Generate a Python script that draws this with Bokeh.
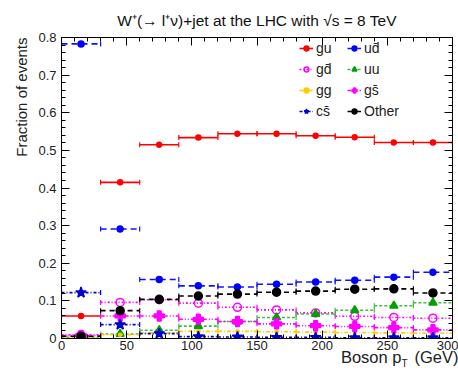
import math
from bokeh.plotting import figure
from bokeh.models import (Range1d, LinearAxis, SingleIntervalTicker, FixedTicker, Legend,
                          LegendItem, ColumnDataSource, CustomJSTickFormatter, Title)
from bokeh.embed import file_html
from bokeh.resources import INLINE

# ---------------- data ----------------
bin_lo = [0, 30, 60, 90, 120, 150, 180, 210, 240, 270]
bin_hi = [30, 60, 90, 120, 150, 180, 210, 240, 270, 300]
bin_mid = [15, 45, 75, 105, 135, 165, 195, 225, 255, 285]

frac_gu = [0.060, 0.415, 0.515, 0.534, 0.544, 0.544, 0.539, 0.535, 0.521, 0.521]
frac_ud = [0.783, 0.291, 0.157, 0.140, 0.137, 0.144, 0.150, 0.155, 0.163, 0.176]
frac_gd = [0.010, 0.096, 0.103, 0.094, 0.083, 0.076, 0.068, 0.059, 0.056, 0.054]
frac_uu = [0.003, 0.012, 0.022, 0.033, 0.045, 0.056, 0.065, 0.075, 0.087, 0.095]
frac_gg = [0.004, 0.010, 0.015, 0.019, 0.019, 0.018, 0.017, 0.016, 0.015, 0.014]
frac_gs = [0.008, 0.060, 0.060, 0.051, 0.045, 0.039, 0.034, 0.032, 0.029, 0.023]
frac_cs = [0.122, 0.037, 0.013, 0.005, 0.004, 0.003, 0.003, 0.002, 0.002, 0.002]
frac_other = [0.006, 0.074, 0.104, 0.113, 0.118, 0.123, 0.126, 0.131, 0.132, 0.121]

series_labels = ["gu", "u\u0064\u0304", "g\u0064\u0304", "uu", "gg", "g\u0073\u0304", "c\u0073\u0304", "Other"]
series_values = [frac_gu, frac_ud, frac_gd, frac_uu, frac_gg, frac_gs, frac_cs, frac_other]

title_text = "W\u207a(\u2192 l\u207a\u03bd)+jet at the LHC with \u221as = 8 TeV"
y_title = "Fraction of events"
x_title_parts = ["Boson p", "T", "(GeV)"]

# ---------------- styles ----------------
styles = [
    dict(color="#ff0000", mcolor="#ff0000", dash="solid", marker="circle", size=5, fill=True),
    dict(color="#1010ff", mcolor="#0000ff", dash="6 4", marker="circle", size=6, fill=True),
    dict(color="#ff00ff", mcolor="#ff00ff", dash="2 2 1 2", marker="circle", size=8, fill=False),
    dict(color="#44bb44", mcolor="#00a000", dash="3 2", marker="triangle", size=8, fill=True),
    dict(color="#ffcc00", mcolor="#ffcc00", dash="4 2 1 2", marker="circle", size=3, fill=True),
    dict(color="#ff00ff", mcolor="#ff00ff", dash="4 2 1 2 1 2", marker="plus", size=10, fill=True),
    dict(color="#0000cc", mcolor="#0000cc", dash="3 2 1 2", marker="star", size=11, fill=True),
    dict(color="#000000", mcolor="#000000", dash="5 4", marker="circle", size=8, fill=True),
]

FONT = "Liberation Sans"
TXT = "#222222"

p = figure(width=458, height=374, output_backend="svg", toolbar_location=None,
           x_range=Range1d(0, 300), y_range=Range1d(0, 0.8),
           min_border_left=61, min_border_right=6, min_border_top=34, min_border_bottom=36)
p.xgrid.visible = False
p.ygrid.visible = False
p.outline_line_color = "black"
p.outline_line_width = 1
p.background_fill_color = "white"
p.border_fill_color = "white"

p.title.text = title_text
p.title.align = "center"
p.title.offset = -9
p.title.standoff = 18
p.title.text_font = FONT
p.title.text_font_size = "15.5px"
p.title.text_font_style = "normal"
p.title.text_color = "#111111"

yfmt = CustomJSTickFormatter(code="return Math.abs(tick) < 1e-9 ? '0' : tick.toFixed(1);")

def style_axis(ax, labels=True):
    ax.major_tick_in = 8
    ax.major_tick_out = 0
    ax.minor_tick_in = 4
    ax.minor_tick_out = 0
    ax.axis_line_color = "black"
    ax.major_tick_line_color = "black"
    ax.minor_tick_line_color = "black"
    ax.major_label_text_font = FONT
    ax.major_label_text_font_size = "13px" if labels else "0px"
    ax.major_label_text_color = TXT
    if not labels:
        ax.major_label_standoff = 0

p.xaxis.ticker = SingleIntervalTicker(interval=50, num_minor_ticks=5)
p.yaxis.ticker = SingleIntervalTicker(interval=0.1, num_minor_ticks=5)
p.yaxis.formatter = yfmt
style_axis(p.xaxis[0])
style_axis(p.yaxis[0])
p.xaxis.major_label_standoff = 2
p.yaxis.major_label_standoff = 5

top_ax = LinearAxis(ticker=SingleIntervalTicker(interval=50, num_minor_ticks=5))
right_ax = LinearAxis(ticker=SingleIntervalTicker(interval=0.1, num_minor_ticks=5))
style_axis(top_ax, labels=False)
style_axis(right_ax, labels=False)
p.add_layout(top_ax, "above")
p.add_layout(right_ax, "right")

# y axis title (ROOT style: at the top end)
p.add_layout(Title(text=y_title, align="right", text_font=FONT, text_font_size="15px",
                   text_font_style="normal", text_color=TXT, standoff=12), "left")

# x axis title at the right end, built from label-only axes (p + subscript T)
def label_axis(ticks, texts, size, standoff):
    ax = LinearAxis(ticker=FixedTicker(ticks=ticks, minor_ticks=[]))
    ax.major_label_overrides = dict(zip(ticks, texts))
    ax.axis_line_color = None
    ax.major_tick_line_color = None
    ax.minor_tick_line_color = None
    ax.major_tick_out = 0
    ax.major_tick_in = 0
    ax.major_label_standoff = standoff
    ax.major_label_text_font = FONT
    ax.major_label_text_font_size = size
    ax.major_label_text_color = TXT
    return ax

p.add_layout(label_axis([237.6, 297], [x_title_parts[0], x_title_parts[2]], "16.5px", -5), "below")
p.add_layout(label_axis([263.2], [x_title_parts[1]], "10px", -11), "below")

# ---------------- series ----------------
items = {}
for lab, vals, st in zip(series_labels, series_values, styles):
    src = ColumnDataSource(dict(lo=bin_lo, hi=bin_hi, mid=bin_mid, y=vals))
    seg = p.segment(x0="lo", x1="hi", y0="y", y1="y", source=src,
                    line_color=st["color"], line_width=1.6, line_dash=st["dash"])
    p.scatter(x="lo", y="y", source=src, marker="dash", angle=math.pi / 2, size=5,
              line_color=st["color"], line_width=1.2)
    p.scatter(x="hi", y="y", source=src, marker="dash", angle=math.pi / 2, size=5,
              line_color=st["color"], line_width=1.2)
    sc = p.scatter(x="mid", y="y", source=src, marker=st["marker"], size=st["size"],
                   line_color=st["mcolor"], line_width=1.5,
                   fill_color=st["mcolor"] if st["fill"] else None)
    items[lab] = LegendItem(label=lab, renderers=[seg, sc])

# two columns filled row by row: reorder for column-major legend layout
order = [0, 2, 4, 6, 1, 3, 5, 7]
legend = Legend(items=[items[series_labels[i]] for i in order], ncols=2, location=(238, 217),
                label_text_font=FONT, label_text_font_size="14px", label_text_color=TXT,
                glyph_width=14, glyph_height=12, label_standoff=3,
                label_width=31, label_height=21, spacing=0,
                padding=0, margin=0, border_line_color=None,
                background_fill_alpha=0)
p.add_layout(legend, "center")

open("out.html", "w").write(file_html(p, INLINE))
